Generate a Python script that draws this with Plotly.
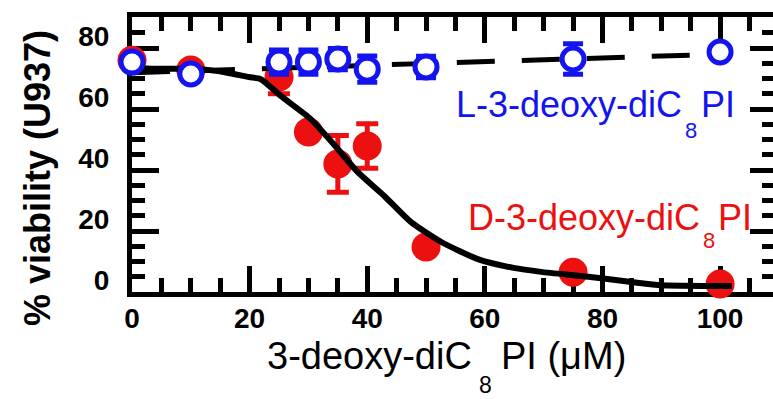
import plotly.graph_objects as go

# ---- data ----
conc = [0, 10, 25, 30, 35, 40, 50, 75, 100]            # µM
viab_D = [76.0, 72.8, 70.5, 52.5, 42.0, 47.9, 14.8, 6.5, 2.6]
err_D = [0, 0, 5.5, 0, 9.3, 7.3, 0, 0, 0]
viab_L = [75.4, 71.5, 75.4, 75.4, 76.4, 73.1, 73.8, 76.4, 78.7]
err_L = [0, 0, 4, 4, 3.5, 4.3, 3.5, 5, 0]

fit_D_x = [0, 5, 11.7, 16, 19.9, 21.9, 25.3, 30.4, 35.0, 38.4, 42.9, 47.4, 52.6,
           58.8, 64.9, 69.6, 77.6, 84.9, 90.0, 98.0, 102.0]
fit_D_y = [73.5, 73.2, 73.1, 72.0, 70.5, 69.8, 64.3, 56.7, 46.9, 39.3, 31.5, 23.0,
           16.4, 10.8, 7.9, 6.6, 5.0, 3.3, 2.2, 2.0, 2.0]
fit_L_x = [0, 100]
fit_L_y = [71.9, 78.0]

x_ticks = [0, 20, 40, 60, 80, 100]
y_ticks = [0, 20, 40, 60, 80]

RED = "#ec1010"
BLUE = "#1414f0"
FONT = "Liberation Sans, Arial, Helvetica, sans-serif"

W, H = 773, 399
L, R, T, B = 132, 0, 17, 107
XR = [0, 109.0]
YR = [0, 90.2]


def px(xp):
    return (xp - L) / (W - L - R)


def py(yp):
    return (H - B - yp) / (H - B - T)


fig = go.Figure()
fig.add_trace(go.Scatter(
    x=conc, y=viab_D, mode="markers", cliponaxis=False,
    marker=dict(size=29, color=RED, line=dict(width=0)),
    error_y=dict(type="data", array=err_D, color=RED, thickness=5, width=11),
    showlegend=False, hoverinfo="skip"))
fig.add_trace(go.Scatter(
    x=fit_D_x, y=fit_D_y, mode="lines",
    line=dict(color="black", width=6, shape="spline", smoothing=0.6),
    showlegend=False, hoverinfo="skip"))
fig.add_trace(go.Scatter(
    x=fit_L_x, y=fit_L_y, mode="lines",
    line=dict(color="black", width=5, dash="38px,27px"),
    showlegend=False, hoverinfo="skip"))
fig.add_trace(go.Scatter(
    x=conc, y=viab_L, mode="markers", cliponaxis=False,
    marker=dict(size=22, color="white", line=dict(width=5, color=BLUE)),
    error_y=dict(type="data", array=err_L, color=BLUE, thickness=5, width=10),
    showlegend=False, hoverinfo="skip"))
# helper trace so the right-hand tick axis is drawn
fig.add_trace(go.Scatter(x=[], y=[], yaxis="y2", showlegend=False, hoverinfo="skip"))

tickfont = dict(family=FONT, size=28, color="black", weight=700)


def label(text, xp, yp, size, color, anchor="center", weight=400):
    return dict(text=text, xref="paper", yref="paper", x=px(xp), y=py(yp),
                xanchor=anchor, yanchor="middle", showarrow=False,
                font=dict(family=FONT, size=size, color=color, weight=weight))


annotations = [
    dict(text="% viability (U937)", textangle=-90, xref="paper", yref="paper",
         x=px(37), y=py(178), xanchor="center", yanchor="middle", showarrow=False,
         font=dict(family=FONT, size=36, color="black", weight=700)),
    # x-axis title, with the subscript set well below the baseline as in the original
    label("3-deoxy-diC", 474, 356, 38, "black", "right"),
    label("8", 485, 385, 23, "black", "center"),
    label("PI (μM)", 499, 356, 38, "black", "left"),
    # series labels
    label("L-3-deoxy-diC", 684, 104, 36, BLUE, "right"),
    label("8", 691, 130, 22, BLUE, "center"),
    label("PI", 699, 104, 36, BLUE, "left"),
    label("D-3-deoxy-diC", 702, 217, 36, RED, "right"),
    label("8", 709, 240, 22, RED, "center"),
    label("PI", 716, 217, 36, RED, "left"),
]

fig.update_layout(
    width=W, height=H,
    margin=dict(l=L, r=R, t=T, b=B, pad=0),
    paper_bgcolor="white", plot_bgcolor="white",
    xaxis=dict(
        range=XR, showgrid=False, zeroline=False,
        showline=True, linewidth=5, linecolor="black", mirror="ticks",
        ticks="inside", ticklen=26, tickwidth=5, tickcolor="black",
        tickmode="array", tickvals=x_ticks, ticktext=[str(v) for v in x_ticks],
        minor=dict(ticks="inside", ticklen=14, tickwidth=5, tickcolor="black",
                   dtick=5, tick0=0, showgrid=False),
        tickfont=tickfont, ticklabelstandoff=-3, layer="below traces"),
    yaxis=dict(
        range=YR, showgrid=False, zeroline=False,
        showline=True, linewidth=5, linecolor="black", mirror=False,
        ticks="inside", ticklen=27, tickwidth=5, tickcolor="black",
        tickmode="array", tickvals=y_ticks, ticktext=[str(v) for v in y_ticks],
        minor=dict(ticks="inside", ticklen=13, tickwidth=5, tickcolor="black",
                   dtick=5, tick0=0, showgrid=False),
        tickfont=tickfont, ticklabelstandoff=12, ticklabelshift=-12,
        layer="below traces"),
    yaxis2=dict(
        range=YR, overlaying="y", side="right", showgrid=False, zeroline=False,
        showline=False, ticks="inside", ticklen=23, tickwidth=5, tickcolor="black",
        tickmode="array", tickvals=y_ticks, showticklabels=False,
        minor=dict(ticks="inside", ticklen=11, tickwidth=5, tickcolor="black",
                   dtick=5, tick0=0, showgrid=False),
        layer="below traces"),
    annotations=annotations,
)

fig.write_html("out.html")
